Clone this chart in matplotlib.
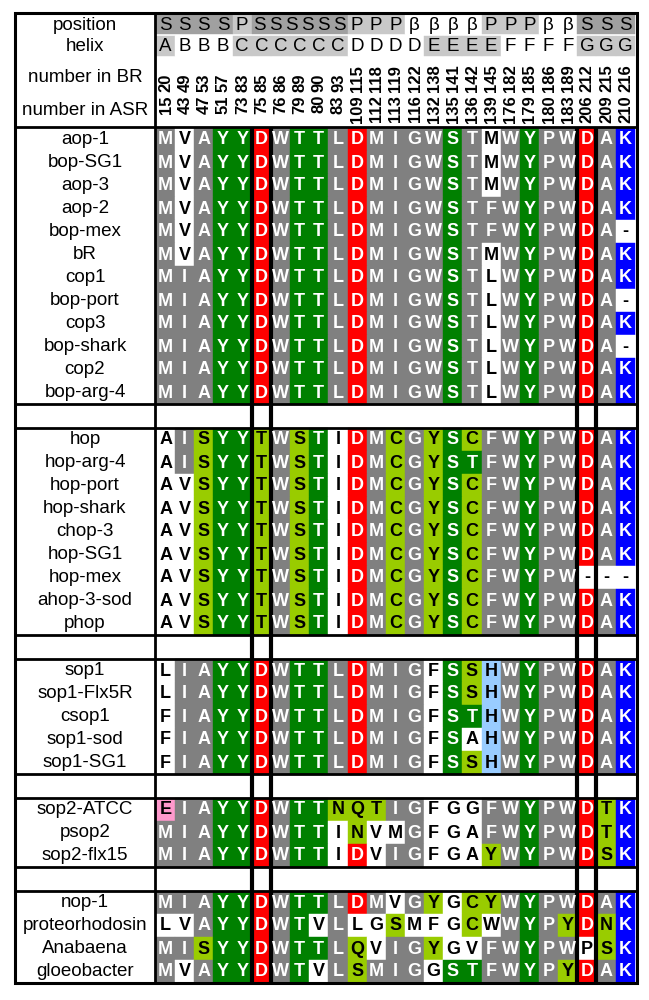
import matplotlib.pyplot as plt
from matplotlib.patches import Rectangle

plt.rcParams['font.family'] = ['Liberation Sans', 'DejaVu Sans']

# header rows
position_labels = ["SSSS", "P", "SSSSSS", "PPP", "ββββ", "PPP", "ββ", "SSS"]
position_spans = [4, 1, 5, 3, 4, 3, 2, 3]
helix = list("ABBBCCCCCCDDDDEEEEFFFFGGG")
number_br = [20, 49, 53, 57, 83, 85, 86, 89, 90, 93, 115, 118, 119, 122,
             138, 141, 142, 145, 182, 185, 186, 189, 212, 215, 216]
number_asr = [15, 43, 47, 51, 73, 75, 76, 79, 80, 83, 109, 112, 113, 116,
              132, 135, 136, 139, 176, 179, 180, 183, 206, 209, 210]

# colour codes: g grey, w white, G green, L light green, R red, B blue,
# H light blue, P pink
group1_names = ["aop-1", "bop-SG1", "aop-3", "aop-2", "bop-mex", "bR", "cop1",
                "bop-port", "cop3", "bop-shark", "cop2", "bop-arg-4"]
group1_seqs = ["MVAYYDWTTLDMIGWSTMWYPWDAK", "MVAYYDWTTLDMIGWSTMWYPWDAK",
               "MVAYYDWTTLDMIGWSTMWYPWDAK", "MVAYYDWTTLDMIGWSTFWYPWDAK",
               "MVAYYDWTTLDMIGWSTFWYPWDA-", "MVAYYDWTTLDMIGWSTMWYPWDAK",
               "MIAYYDWTTLDMIGWSTLWYPWDAK", "MIAYYDWTTLDMIGWSTLWYPWDA-",
               "MIAYYDWTTLDMIGWSTLWYPWDAK", "MIAYYDWTTLDMIGWSTLWYPWDA-",
               "MIAYYDWTTLDMIGWSTLWYPWDAK", "MIAYYDWTTLDMIGWSTLWYPWDAK"]
group1_marks = ["gwgGGRgGGgRggggGgwgGggRgB", "gwgGGRgGGgRggggGgwgGggRgB",
                "gwgGGRgGGgRggggGgwgGggRgB", "gwgGGRgGGgRggggGgggGggRgB",
                "gwgGGRgGGgRggggGgggGggRgw", "gwgGGRgGGgRggggGgwgGggRgB",
                "gggGGRgGGgRggggGgwgGggRgB", "gggGGRgGGgRggggGgwgGggRgw",
                "gggGGRgGGgRggggGgwgGggRgB", "gggGGRgGGgRggggGgwgGggRgw",
                "gggGGRgGGgRggggGgwgGggRgB", "gggGGRgGGgRggggGgwgGggRgB"]

group2_names = ["hop", "hop-arg-4", "hop-port", "hop-shark", "chop-3",
                "hop-SG1", "hop-mex", "ahop-3-sod", "phop"]
group2_seqs = ["AISYYTWSTIDMCGYSCFWYPWDAK", "AISYYTWSTIDMCGYSTFWYPWDAK",
               "AVSYYTWSTIDMCGYSCFWYPWDAK", "AVSYYTWSTIDMCGYSCFWYPWDAK",
               "AVSYYTWSTIDMCGYSCFWYPWDAK", "AVSYYTWSTIDMCGYSCFWYPWDAK",
               "AVSYYTWSTIDMCGYSCFWYPW---", "AVSYYTWSTIDMCGYSCFWYPWDAK",
               "AVSYYTWSTIDMCGYSCFWYPWDAK"]
group2_marks = ["wgLGGLgLGwRgLgLGLggGggRgB", "wgLGGLgLGwRgLgLGGggGggRgB",
                "wwLGGLgLGwRgLgLGLggGggRgB", "wwLGGLgLGwRgLgLGLggGggRgB",
                "wwLGGLgLGwRgLgLGLggGggRgB", "wwLGGLgLGwRgLgLGLggGggRgB",
                "wwLGGLgLGwRgLgLGLggGggwww", "wwLGGLgLGwRgLgLGLggGggRgB",
                "wwLGGLgLGwRgLgLGLggGggRgB"]

group3_names = ["sop1", "sop1-Flx5R", "csop1", "sop1-sod", "sop1-SG1"]
group3_seqs = ["LIAYYDWTTLDMIGFSSHWYPWDAK", "LIAYYDWTTLDMIGFSSHWYPWDAK",
               "FIAYYDWTTLDMIGFSTHWYPWDAK", "FIAYYDWTTLDMIGFSAHWYPWDAK",
               "FIAYYDWTTLDMIGFSSHWYPWDAK"]
group3_marks = ["wggGGRgGGgRgggwGLHgGggRgB", "wggGGRgGGgRgggwGLHgGggRgB",
                "wggGGRgGGgRgggwGGHgGggRgB", "wggGGRgGGgRgggwGwHgGggRgB",
                "wggGGRgGGgRgggwGLHgGggRgB"]

group4_names = ["sop2-ATCC", "psop2", "sop2-flx15"]
group4_seqs = ["EIAYYDWTTNQTIGFGGFWYPWDTK", "MIAYYDWTTINVMGFGAFWYPWDTK",
               "MIAYYDWTTIDVIGFGAYWYPWDSK"]
group4_marks = ["PggGGRgGGLLLggwwwggGggRLB", "gggGGRgGGwLwwgwwwggGggRLB",
                "gggGGRgGGwRwggwwwLgGggRLB"]

group5_names = ["nop-1", "proteorhodosin", "Anabaena", "gloeobacter"]
group5_seqs = ["MIAYYDWTTLDMVGYGCYWYPWDAK", "LVAYYDWTVLLGSMFGCWWYPYDNK",
               "MISYYDWTTLQVIGYGVFWYPWPSK", "MVAYYDWTVLSMIGGSTFWYPYDAK"]
group5_marks = ["gggGGRgGGgRgwgLwLLgGggRgB", "wwgGGRgGwgwwLwwwLwgGgLRLB",
                "ggLGGRgGGgLwggLwwggGggwLB", "gwgGGRgGwgLgggwGGggGgLRgB"]

groups = [(group1_names, group1_seqs, group1_marks),
          (group2_names, group2_seqs, group2_marks),
          (group3_names, group3_seqs, group3_marks),
          (group4_names, group4_seqs, group4_marks),
          (group5_names, group5_seqs, group5_marks)]

fills = {"g": "#808080", "w": "#ffffff", "G": "#008000", "L": "#99cc00",
         "R": "#ff0000", "B": "#0000ff", "H": "#99ccff", "P": "#ff99cc"}
ink = {"g": "white", "w": "black", "G": "white", "L": "black",
       "R": "white", "B": "white", "H": "black", "P": "black"}
pos_fill = {"S": "#a0a0a0", "P": "#c8c8c8", "β": "#ffffff"}
helix_fill = {"A": "#c8c8c8", "B": "#ffffff", "C": "#c8c8c8", "D": "#ffffff",
              "E": "#c8c8c8", "F": "#ffffff", "G": "#c8c8c8"}

left, name_right, col0, colw = 15, 155, 156, 19.15
top, row_h, gap = 13, 23, 24
right = col0 + 25 * colw + 2
label_fs = 13.5


def cell(ax, x, y, w, h, color):
    ax.add_patch(Rectangle((x, y), w, h, facecolor=color, edgecolor=color,
                           lw=0.3))


fig = plt.figure(figsize=(6.49, 10), dpi=100)
ax = fig.add_axes([0, 0, 1, 1])
ax.set_xlim(0, 649)
ax.set_ylim(1000, 0)
ax.axis("off")

# header
hdr = [("position", 15, 35), ("helix", 35, 58), ("number in BR", 60, 94),
       ("number in ASR", 94, 127)]
for label, y0, y1 in hdr:
    ax.text((left + name_right) / 2, (y0 + y1) / 2, label, ha="center",
            va="center", fontsize=label_fs)

c = 0
for lab, span in zip(position_labels, position_spans):
    x0 = col0 + c * colw
    cell(ax, x0, 15, span * colw, 19, pos_fill[lab[0]])
    step = span * colw / len(lab)
    for i, ch in enumerate(lab):
        ax.text(x0 + (i + 0.5) * step, 25, ch, ha="center", va="center",
                fontsize=13.5)
    c += span

for i, h in enumerate(helix):
    x0 = col0 + i * colw
    cell(ax, x0, 36, colw, 20, helix_fill[h])
    ax.text(x0 + colw / 2, 46.5, h, ha="center", va="center", fontsize=13.5)
    ax.text(x0 + colw / 2 + 0.5, 92, str(number_br[i]), rotation=90,
            rotation_mode="anchor", ha="left", va="center", fontsize=12,
            fontweight="bold")
    ax.text(x0 + colw / 2 + 0.5, 95, str(number_asr[i]), rotation=90,
            rotation_mode="anchor", ha="right", va="center", fontsize=12,
            fontweight="bold")

# alignment blocks
y = 128
hlines = [127]
for gi, (names, seqs, marks) in enumerate(groups):
    for name, seq, mark in zip(names, seqs, marks):
        ax.text((left + name_right) / 2, y + row_h / 2, name, ha="center",
                va="center", fontsize=label_fs)
        for j, (aa, m) in enumerate(zip(seq, mark)):
            x0 = col0 + j * colw
            cell(ax, x0, y, colw, row_h, fills[m])
            ax.text(x0 + colw / 2, y + row_h / 2 + 0.5, aa, ha="center",
                    va="center", fontsize=13, fontweight="bold",
                    color=ink[m])
        y += row_h
    hlines.append(y)
    if gi < len(groups) - 1:
        y += gap
        hlines.append(y)
bottom = y

for yl in hlines:
    ax.plot([left, right], [yl, yl], color="black", lw=2, solid_capstyle="butt")
for k in (5, 6, 22, 23):
    xk = col0 + k * colw
    ax.plot([xk, xk], [127, bottom], color="black", lw=3,
            solid_capstyle="butt")
ax.plot([name_right, name_right], [top, bottom], color="black", lw=2)
ax.add_patch(Rectangle((left, top), right - left, bottom - top, fill=False,
                       edgecolor="black", lw=2.2))

fig.savefig("out.png", dpi=100)
